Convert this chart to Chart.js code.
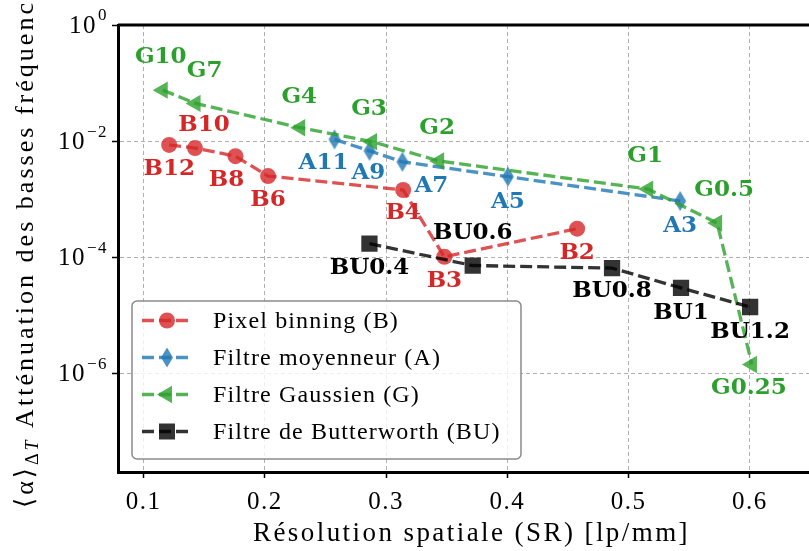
<!DOCTYPE html>
<html>
<head>
<meta charset="utf-8">
<script src="https://cdn.jsdelivr.net/npm/chart.js@4.4.1/dist/chart.umd.min.js"></script>
<style>
  body { margin: 0; overflow: hidden; background: #fff; }
  canvas { display: block; }
</style>
</head>
<body>
<canvas id="grafica" width="822" height="551"></canvas>
<script>
// valeurs
const binX = [0.121, 0.1423, 0.1757, 0.2026, 0.314, 0.348, 0.4575];
const binY = [8.6e-3, 7.6e-3, 5.5e-3, 2.5e-3, 1.44e-3, 1.02e-4, 3.1e-4];
const binNoms = ['B12', 'B10', 'B8', 'B6', 'B4', 'B3', 'B2'];

const moyX = [0.2574, 0.2862, 0.3134, 0.4004, 0.5425];
const moyY = [1.07e-2, 6.8e-3, 4.4e-3, 2.44e-3, 9.3e-4];
const moyNoms = ['A11', 'A9', 'A7', 'A5', 'A3'];

const gauX = [0.1157, 0.1428, 0.2291, 0.2883, 0.3437, 0.5161, 0.5730, 0.6017];
const gauY = [7.55e-2, 4.46e-2, 1.70e-2, 9.8e-3, 4.55e-3, 1.49e-3, 3.87e-4, 1.42e-6];
const gauNoms = ['G10', 'G7', 'G4', 'G3', 'G2', 'G1', 'G0.5', 'G0.25'];

const butX = [0.2862, 0.3714, 0.4863, 0.5432, 0.6002];
const butY = [1.71e-4, 7.2e-5, 6.5e-5, 2.96e-5, 1.39e-5];
const butNoms = ['BU0.4', 'BU0.6', 'BU0.8', 'BU1', 'BU1.2'];

const seriesNoms = ['Pixel binning (B)', 'Filtre moyenneur (A)', 'Filtre Gaussien (G)', 'Filtre de Butterworth (BU)'];
const xTicks = [0.1, 0.2, 0.3, 0.4, 0.5, 0.6];
const yTicks = [1e-6, 1e-4, 1e-2, 1];

// décalage des étiquettes (px)
const binDec = [[0, 24], [9, -23], [-9, 24], [0, 24], [0, 23], [0, 24], [0, 24]];
const moyDec = [[-11, 24], [-1, 22], [29, 24], [0, 25], [0, 25]];
const gauDec = [[-2, -33], [9, -32], [-1, -31], [-3, -33], [-2, -33], [-3, -33], [7, -33], [-3, 24]];
const butDec = [[0, 24], [0, -32], [0, 23], [0, 25], [0, 25]];

const rouge = 'rgba(214,39,40,0.8)', bleu = 'rgba(31,119,180,0.8)', vert = 'rgba(44,160,44,0.8)', noir = 'rgba(0,0,0,0.8)';
const couleursTexte = ['#d62728', '#1f77b4', '#2ca02c', '#000000'];
const serif = '"Liberation Serif", "DejaVu Serif", serif';

function losange(color) {
    const c = document.createElement('canvas');
    c.width = 14; c.height = 22;
    const g = c.getContext('2d');
    g.fillStyle = color;
    g.beginPath();
    g.moveTo(7, 1); g.lineTo(13, 11); g.lineTo(7, 21); g.lineTo(1, 11);
    g.closePath();
    g.fill();
    return c;
}
const losangeBleu = losange(bleu);

function points(xs, ys) {
    return xs.map((x, i) => ({ x: x, y: ys[i] }));
}

function serie(label, xs, ys, color, style, radius, rot, order) {
    return {
        label: label,
        data: points(xs, ys),
        showLine: true,
        borderColor: color,
        backgroundColor: color,
        borderWidth: 3.3,
        borderDash: [12, 5],
        pointStyle: style,
        pointRadius: radius,
        pointRotation: rot,
        pointBorderWidth: 0,
        pointBackgroundColor: color,
        order: order
    };
}

const datasets = [
    serie(seriesNoms[0], binX, binY, rouge, 'circle', 8, 0, 4),
    serie(seriesNoms[1], moyX, moyY, bleu, losangeBleu, 10, 0, 3),
    serie(seriesNoms[2], gauX, gauY, vert, 'triangle', 10, 270, 2),
    serie(seriesNoms[3], butX, butY, noir, 'rect', 11.5, 0, 1)
];
const noms = [binNoms, moyNoms, gauNoms, butNoms];
const decalages = [binDec, moyDec, gauDec, butDec];
const marqueurs = [
    { style: 'circle', color: rouge },
    { style: 'diamond', color: bleu },
    { style: 'left', color: vert },
    { style: 'square', color: noir }
];

function dessinerMarqueur(ctx, m, x, y) {
    ctx.fillStyle = m.color;
    ctx.beginPath();
    if (m.style === 'circle') {
        ctx.arc(x, y, 8, 0, Math.PI * 2);
    } else if (m.style === 'diamond') {
        ctx.moveTo(x, y - 10); ctx.lineTo(x + 6, y); ctx.lineTo(x, y + 10); ctx.lineTo(x - 6, y);
    } else if (m.style === 'left') {
        ctx.moveTo(x - 10, y); ctx.lineTo(x + 5, y - 8.7); ctx.lineTo(x + 5, y + 8.7);
    } else {
        ctx.rect(x - 8, y - 8, 16, 16);
    }
    ctx.closePath();
    ctx.fill();
}

// espacement des lettres pour qu'un texte occupe une largeur donnée
function espacement(ctx, texte, font, largeur) {
    ctx.letterSpacing = '0px';
    ctx.font = font;
    const w = ctx.measureText(texte).width;
    return Math.max(0, (largeur - w) / texte.length);
}

const cadre = {
    id: 'cadre',
    beforeDatasetsDraw(chart) {
        const { ctx, chartArea: a } = chart;
        ctx.save();
        ctx.strokeStyle = '#000';
        ctx.lineWidth = 3;
        ctx.setLineDash([]);
        ctx.beginPath();
        ctx.moveTo(a.left, a.top); ctx.lineTo(a.right, a.top); ctx.lineTo(a.right, a.bottom);
        ctx.stroke();
        ctx.restore();
    }
};

const etiquettes = {
    id: 'etiquettes',
    afterDatasetsDraw(chart) {
        const ctx = chart.ctx;
        const sx = chart.scales.x, sy = chart.scales.y;
        ctx.save();
        ctx.letterSpacing = '0px';
        ctx.font = 'bold 23px "DejaVu Serif", serif';
        ctx.textAlign = 'center';
        ctx.textBaseline = 'middle';
        chart.data.datasets.forEach((ds, i) => {
            ctx.fillStyle = couleursTexte[i];
            ds.data.forEach((p, j) => {
                const px = sx.getPixelForValue(p.x) + decalages[i][j][0];
                const py = sy.getPixelForValue(p.y) + decalages[i][j][1];
                ctx.fillText(noms[i][j], px, py);
            });
        });
        ctx.restore();
    }
};

const legende = {
    id: 'legende',
    afterDraw(chart) {
        const ctx = chart.ctx;
        ctx.save();
        const bx = 132, by = 301, bw = 389, bh = 158, r = 5;
        ctx.beginPath();
        ctx.moveTo(bx + r, by);
        ctx.arcTo(bx + bw, by, bx + bw, by + bh, r);
        ctx.arcTo(bx + bw, by + bh, bx, by + bh, r);
        ctx.arcTo(bx, by + bh, bx, by, r);
        ctx.arcTo(bx, by, bx + bw, by, r);
        ctx.closePath();
        ctx.fillStyle = 'rgba(255,255,255,0.8)';
        ctx.fill();
        ctx.strokeStyle = '#8a8a8a';
        ctx.lineWidth = 1.5;
        ctx.stroke();
        const font = '24px ' + serif;
        const esp = espacement(ctx, seriesNoms[0], font, 186);
        chart.data.datasets.forEach((ds, i) => {
            const y = 320.5 + i * 37;
            ctx.strokeStyle = ds.borderColor;
            ctx.lineWidth = 3.3;
            ctx.setLineDash([12, 5]);
            ctx.beginPath();
            ctx.moveTo(142, y); ctx.lineTo(192, y);
            ctx.stroke();
            ctx.setLineDash([]);
            dessinerMarqueur(ctx, marqueurs[i], 167, y);
            ctx.fillStyle = '#000';
            ctx.font = font;
            ctx.letterSpacing = esp + 'px';
            ctx.textAlign = 'left';
            ctx.textBaseline = 'middle';
            ctx.fillText(ds.label, 213, y + 1);
        });
        ctx.restore();
    }
};

// textes des axes : Liberation Serif élargi pour approcher Computer Modern
const textes = {
    id: 'textes',
    beforeDraw(chart) {
        chart.ctx.letterSpacing = '1.5px';
    },
    afterDraw(chart) {
        const ctx = chart.ctx;
        const a = chart.chartArea;
        const sy = chart.scales.y;
        ctx.save();
        ctx.fillStyle = '#000';
        ctx.letterSpacing = '1.5px';
        // étiquettes de l'axe y : 10^n
        yTicks.forEach(v => {
            const py = sy.getPixelForValue(v);
            const exp = String(Math.round(Math.log10(v))).replace('-', '\u2212');
            ctx.font = '17px ' + serif;
            const we = ctx.measureText(exp).width;
            ctx.textAlign = 'right';
            ctx.textBaseline = 'middle';
            ctx.fillText(exp, 108, py - 9);
            ctx.font = '25px ' + serif;
            ctx.fillText('10', 108 - we - 1, py + 1);
        });
        // titre x
        const titreX = 'Résolution spatiale (SR) [lp/mm]';
        const fx = '27px ' + serif;
        const ex = espacement(ctx, titreX, fx, 437);
        ctx.font = fx;
        ctx.letterSpacing = ex + 'px';
        ctx.textAlign = 'left';
        ctx.textBaseline = 'middle';
        ctx.fillText(titreX, 253, 534);
        // titre y avec indice, de y=508 vers le haut
        const parts = [
            { t: '\u27E8\u03B1\u27E9', f: '26px ' + serif, dy: 0 },
            { t: '\u0394', f: '18px ' + serif, dy: 7 },
            { t: 'T', f: 'italic 18px ' + serif, dy: 7 },
            { t: ' Atténuation des basses fréquences', f: '26px ' + serif, dy: 0 }
        ];
        ctx.letterSpacing = '0px';
        let base = 0, n = 0;
        parts.forEach(p => {
            ctx.font = p.f;
            const vis = p.t.replace('fréquences', 'fréquenc');
            base += ctx.measureText(vis).width;
            n += vis.length;
        });
        const ey = Math.max(0, (508 - base) / n);
        ctx.letterSpacing = ey + 'px';
        ctx.translate(26, 0);
        ctx.rotate(-Math.PI / 2);
        ctx.textAlign = 'left';
        let x = -508;
        parts.forEach(p => { ctx.font = p.f; ctx.fillText(p.t, x, p.dy); x += ctx.measureText(p.t).width; });
        ctx.restore();
    }
};

new Chart(document.getElementById('grafica'), {
    type: 'scatter',
    data: { datasets: datasets },
    options: {
        responsive: false,
        animation: false,
        layout: { padding: { top: 25, right: 3, left: 0, bottom: 0 } },
        plugins: { legend: { display: false }, tooltip: { enabled: false } },
        scales: {
            x: {
                type: 'linear',
                min: 0.0788,
                max: 0.65,
                afterBuildTicks: s => { s.ticks = xTicks.map(v => ({ value: v })); },
                afterFit: s => { s.height = 79; s.paddingLeft = 0; s.paddingRight = 0; },
                border: { color: '#000', width: 3, dash: [4, 3] },
                grid: { color: '#b0b0b0', lineWidth: 1, tickColor: '#000', tickLength: 6, tickWidth: 1.5, tickBorderDash: [] },
                ticks: { color: '#000', font: { family: serif, size: 25 }, padding: 9, callback: v => v.toFixed(1) }
            },
            y: {
                type: 'logarithmic',
                min: 2.0e-8,
                max: 1,
                afterBuildTicks: s => { s.ticks = yTicks.map(v => ({ value: v })); },
                afterFit: s => { s.width = 118; s.paddingTop = 0; s.paddingBottom = 0; },
                border: { color: '#000', width: 3, dash: [4, 3] },
                grid: { color: '#b0b0b0', lineWidth: 1, tickColor: '#000', tickLength: 6, tickWidth: 1.5, tickBorderDash: [] },
                ticks: { color: '#000', font: { family: serif, size: 25 }, padding: 4, callback: () => '' }
            }
        }
    },
    plugins: [cadre, etiquettes, legende, textes]
});
</script>
</body>
</html>
